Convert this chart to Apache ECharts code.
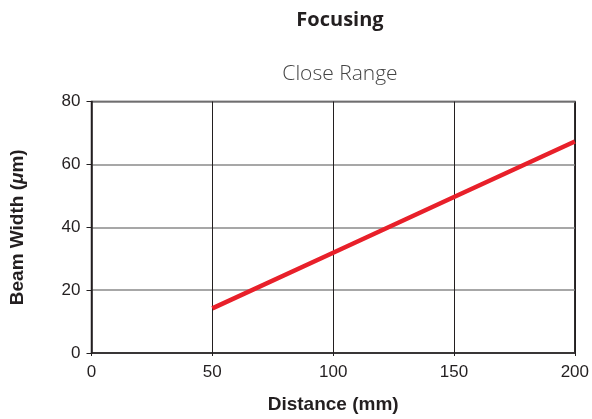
<!DOCTYPE html>
<html>
<head>
<meta charset="utf-8">
<script src="https://cdn.jsdelivr.net/npm/echarts@6/dist/echarts.min.js"></script>
<style>
  html, body { margin: 0; padding: 0; background: #fff; }
  #chart { width: 592px; height: 419px; }
</style>
</head>
<body>
<div id="chart"></div>
<script>
var distance = [50, 100, 150, 200];
var beamWidth = [14.2, 31.9, 49.6, 67.3];
var xTicks = [0, 50, 100, 150, 200];
var yTicks = [0, 20, 40, 60, 80];

var myChart = echarts.init(document.getElementById('chart'));
var dark = '#231f20';
var labelFont = '"Liberation Sans", Arial, sans-serif';

var option = {
    animation: false,
    title: [{
        text: 'Focusing',
        left: 335,
        top: 5,
        textAlign: 'center',
        textStyle: {
            fontFamily: '"Open Sans", sans-serif',
            fontWeight: 'bold',
            fontSize: 20,
            color: '#231f20'
        }
    }, {
        text: 'Close Range',
        left: 335,
        top: 59,
        textAlign: 'center',
        textStyle: {
            fontFamily: '"Open Sans", sans-serif',
            fontWeight: 300,
            fontSize: 21,
            color: '#444'
        }
    }],
    grid: {
        left: 91.5,
        right: 14,
        top: 101.5,
        bottom: 64,
        show: true,
        borderColor: dark,
        borderWidth: 1.5
    },
    xAxis: {
        type: 'value',
        min: xTicks[0],
        max: xTicks[xTicks.length - 1],
        interval: 50,
        name: 'Distance (mm)',
        nameLocation: 'middle',
        nameGap: 42,
        nameTextStyle: {
            fontFamily: labelFont,
            fontWeight: 'bold',
            fontSize: 19,
            color: dark
        },
        axisLine: { show: true, lineStyle: { color: dark, width: 1.5 } },
        axisTick: { show: true, length: 3, lineStyle: { color: dark } },
        axisLabel: {
            fontFamily: labelFont,
            fontSize: 17,
            color: dark,
            margin: 11
        },
        splitLine: { show: true, lineStyle: { color: dark, width: 1 } }
    },
    yAxis: {
        type: 'value',
        min: yTicks[0],
        max: yTicks[yTicks.length - 1],
        interval: 20,
        name: '{b|Beam Width (}{i|μ}{b|m)}',
        nameLocation: 'middle',
        nameGap: 64,
        nameTextStyle: {
            rich: {
                b: { fontFamily: labelFont, fontWeight: 'bold', fontSize: 19, color: dark },
                i: { fontFamily: labelFont, fontWeight: 'bold', fontStyle: 'italic', fontSize: 19, color: dark }
            }
        },
        axisLine: { show: true, lineStyle: { color: dark, width: 1.5 } },
        axisTick: { show: true, length: 5, lineStyle: { color: dark } },
        axisLabel: {
            fontFamily: labelFont,
            fontSize: 17,
            color: dark,
            margin: 11
        },
        splitLine: { show: true, lineStyle: { color: '#8a8a8a', width: 1.5 } }
    },
    series: [{
        type: 'line',
        data: distance.map(function (d, i) { return [d, beamWidth[i]]; }),
        symbol: 'none',
        lineStyle: { color: '#e8202a', width: 4.5 },
        silent: true
    }]
};
myChart.setOption(option);
</script>
</body>
</html>
